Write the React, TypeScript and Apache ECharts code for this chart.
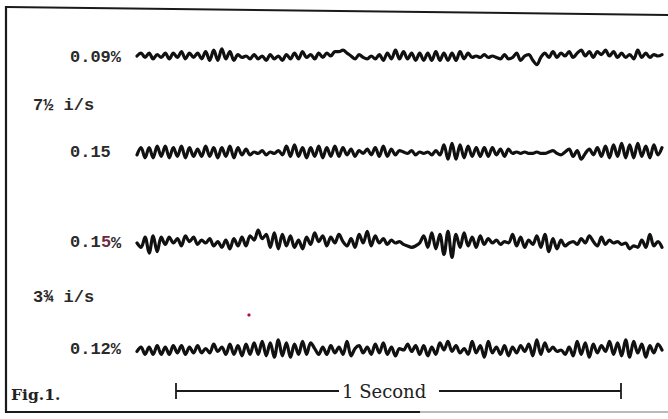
import React, { useEffect, useRef } from "react";
import * as echarts from "echarts";

// Deviation of each recorded trace (pen movement, up = positive), read left to right
const trace1 = [
  0, 2, -1, 2, -2, 1, -1, 2, -2, 2, -1, 3, -2, 2, -1, 2,
  -2, 3, -3, 4, -3, 5, -2, 3, -3,
  1, -1, 0, -2, 1, -2, 0, -3, 1, -2, 0, -3, 1, -2,
  2, -2, 3, -1, 1, -2, 2, -1, 2, 0, 3, 3,
  4, 2, 0, -2, 1, -1, -2, 0, -2, 1, -3, 2, -2, 4, -2,
  3, -2, 2, -3, 2, -3, 2, -3, 3, -3, 2, -3, 2, -3, 3, -2, 2, -1, 0, -1,
  1, -1, 0, -1, -2, 1, -2, -1, 2, -3, 0, 1, -3, -6, -1,
  2, -1, 3, -1, 2, 0, 3, -1, 2, 4, 0, 3, -1, 3, 1,
  4, 0, 3, -1, 2, -1, 1, -2, 4, -1, 2, -1, 1, 0, 1,
];
const trace2 = [
  -2, 3, -4, 3, -4, 4, -3, 4, -4, 3, -3, 4, -4, 3, -3, 2, -3, 4, -3, 3, -4, 3, -3, 4, -4, 3, -2, 2, -2,
  0, -1, 1, -2, 0, -1, 1, -2, 4, -3,
  5, -3, 3, -4, 3, -3, 4, -4, 3, -3, 4, -3, 3, -2, 2, -3, 1, -1, 2, -2, 3, -3, 4, -3, 2, -2, 1,
  0, -1, 1, -2, 0, -1, 0, -2, 1, -2,
  5, -5, 6, -5, 5, -4, 4, -3, 3, -3,
  3, -3, 3, -2, 2, -3, 2, -1, 0, -1, 0, -1,
  -1, 0, -1, -1, 0, 1, -1, -2, 0, 2, -3, 1, -5, -1, 2, -2,
  3, -3, 4, -4, 5, -3, 6, -4, 5, -4, 6, -3, 4, -4, 5, -2, 3,
];
const trace3 = [
  0, -3, 4, -7, 5, -6, 4, -1, 4, 0, 3, -2, 5, 1, 4, -1,
  2, 0, 3, -2, 1, -3, 2, -4, 3, -2,
  4, -2, 5, 2, 9, 3,
  6, -3, 7, -4, 6, -2, 5, -3, 2,
  -4, 4, -1, 7, 1, 5, -2, 4, 0, 6, 1, -2,
  3, -3, 6, 0, 8, -2, 5, 0, 3, -1, 2, 0, 1,
  -1, -2, -3, -2, 0,
  5, -3, 7, -4, 6, -8, 8, -10, 6, -3,
  7, -2, 4, -3, 5, -1, 3, 0, 2, -1, 1, 0, 6, -2, 4, -3, 2, -1,
  5, -3, 6, -6, 3, -4, 2, -2,
  0, 1, -1, 3, 0, 5, 1, -2, 4, -1, 2,
  0, 1, -1, 0, -4, -2, -3, 2, -3, 6, -2, 1, -3,
];
const trace4 = [
  -1, 2, -3, 2, -3, 3, -3, 2, -3, 3, -2, 3, -3, 2, -2, 3,
  -2, 1, -2, 4, -1, 2, -3, 4, -3, 3, -4, 4, -3, 5, -3,
  6, -4, 5, -5, 7, -4, 5, -5, 4, -3,
  6, -3, 5, 1, -3, 2, -3, 3, -2, 2, -3, 6, -4,
  1, 3, -2, 2, -3, 4, -2, 5, -3, 2, -4, 1,
  0, 4, -1, 3, -3, 3, -4, 2, -3, 5, 0, 6, -1, 3, -2,
  1, -3, 6, -2, 3, -5, 6, -2,
  2, -3, 3, -4, 2, -2, 3, -1, 4, -4, 7, -3, 5, -1, 2, -1, 0,
  -3, 2, -4, 6, -3, 5, -5, 4, -2, 3,
  -1, 6, -3, 5, -4, 7, -5, 6, -2, 4, -5, 3, -2, 4, 0,
];

const traces = [trace1, trace2, trace3, trace4];
const traceLabels = ["0.09%", "0.15", "0.15%", "0.12%"];
const speedLabels = ["7½ i/s", "3¾ i/s"];
const scaleLabel = "1 Second";
const figLabel = "Fig.1.";

export default function App() {
  const ref = useRef<HTMLDivElement>(null);
  useEffect(() => {
    if (!ref.current) return;
    const chart = echarts.init(ref.current, undefined, { renderer: "svg" });
    const centers = [56, 152, 243, 350];
    const half = 13;
    const range = 9;
    const mono = "bold 17px 'Liberation Mono', monospace";
    const ink = "#2a2a2a";
    const grid = centers.map((c) => ({ left: 137, right: 6, top: c - half, height: half * 2 }));
    const xAxis = traces.map((t, i) => ({ type: "value", gridIndex: i, min: 0, max: t.length - 1, show: false }));
    const yAxis = traces.map((_, i) => ({ type: "value", gridIndex: i, min: -range, max: range, show: false }));
    const series = traces.map((t, i) => ({
      type: "line",
      xAxisIndex: i,
      yAxisIndex: i,
      data: t.map((v, j) => [j, v]),
      showSymbol: false,
      clip: false,
      smooth: 0.35,
      lineStyle: { color: "#111111", width: 3.2, join: "round", cap: "round" },
    }));
    const txt = (text: string, x: number, y: number, font = mono, fill = ink) => ({
      type: "text",
      x,
      y,
      style: { text, font, fill, verticalAlign: "middle", textAlign: "left" },
    });
    const ln = (x1: number, y1: number, x2: number, y2: number, w = 2, c = "#1a1a1a") => ({
      type: "line",
      shape: { x1, y1, x2, y2 },
      style: { stroke: c, lineWidth: w },
    });
    const graphic = [
      // frame
      ln(6, 7, 668, 15, 2),
      ln(6, 6, 6, 413, 2.2),
      ln(6, 412, 420, 412, 2),
      ln(420, 412, 668, 412, 1.2, "#777"),
      // trace labels
      txt(traceLabels[0], 70, 57),
      txt(speedLabels[0], 33, 105),
      txt(traceLabels[1], 70, 152),
      txt("0.1", 70, 242),
      txt("5", 101, 242, mono, "#6b2a3f"),
      txt("%", 111, 243),
      txt(speedLabels[1], 33, 297),
      txt(traceLabels[3], 70, 349),
      // figure label and time scale
      txt(figLabel, 11, 394, "bold 15.5px 'DejaVu Serif', serif", "#222"),
      ln(176, 391, 339, 391, 1.8),
      ln(176, 383, 176, 399, 1.8),
      ln(439, 391, 621, 391, 1.8),
      ln(621, 383, 621, 399, 1.8),
      txt(scaleLabel, 342, 391, "18px 'DejaVu Serif', serif", "#222"),
      { type: "circle", shape: { cx: 249, cy: 315, r: 1.6 }, style: { fill: "#b0103a" } },
    ];
    chart.setOption({
      animation: false,
      backgroundColor: "#ffffff",
      grid,
      xAxis,
      yAxis,
      series,
      graphic,
    });
    return () => chart.dispose();
  }, []);
  return (
    <div
      ref={ref}
      style={{ position: "fixed", left: 0, top: 0, width: 668, height: 419, background: "#fff" }}
    />
  );
}
